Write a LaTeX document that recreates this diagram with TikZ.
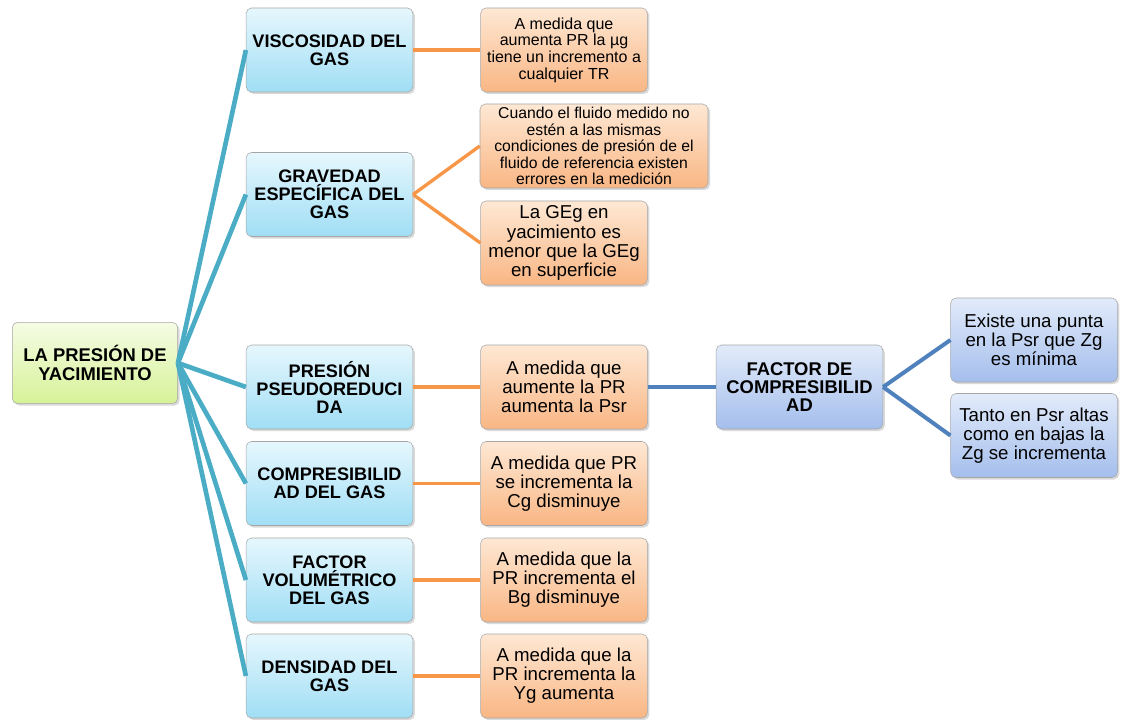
\documentclass[tikz,border=0pt]{standalone}
\usepackage{fontspec}
\setmainfont{Liberation Sans}
\usetikzlibrary{shadows}
\definecolor{tealline}{RGB}{75,172,198}
\definecolor{orangeline}{RGB}{247,150,70}
\definecolor{blueline}{RGB}{79,129,189}
\definecolor{greentop}{RGB}{245,252,228}
\definecolor{greenbot}{RGB}{214,242,152}
\definecolor{cyantop}{RGB}{230,247,253}
\definecolor{cyanbot}{RGB}{160,222,245}
\definecolor{peachtop}{RGB}{254,232,212}
\definecolor{peachbot}{RGB}{249,182,132}
\definecolor{lavtop}{RGB}{226,235,250}
\definecolor{lavbot}{RGB}{164,190,236}
\begin{document}
\begin{tikzpicture}[x=0.75pt,y=-0.75pt,
  box/.style={draw=black!35,rounded corners=4pt,align=center,inner sep=1pt,
    minimum width=125pt,minimum height=63pt,
    drop shadow={opacity=0.3,shadow xshift=1.5pt,shadow yshift=-1.5pt}},
  rootbox/.style={box,minimum width=124pt,minimum height=61pt,
    top color=greentop,bottom color=greenbot,font=\bfseries\fontsize{13.8}{13.6}\selectfont},
  topic/.style={box,top color=cyantop,bottom color=cyanbot,
    font=\bfseries\fontsize{13.6}{13.5}\selectfont},
  note/.style={box,top color=peachtop,bottom color=peachbot,
    font=\fontsize{14}{14.3}\selectfont},
  factorbox/.style={box,top color=lavtop,bottom color=lavbot,
    font=\bfseries\fontsize{13.8}{13.5}\selectfont},
  subnote/.style={box,top color=lavtop,bottom color=lavbot,
    font=\fontsize{14}{14.3}\selectfont}]
  \useasboundingbox (0,0) rectangle (1123,720);
  % root
  \node[rootbox] (root) at (95,363) {LA PRESIÓN DE\\YACIMIENTO};
  % first level
  \node[topic] (visc) at (329.5,50) {VISCOSIDAD DEL\\GAS};
  \node[topic] (grav) at (329.5,194.5) {GRAVEDAD\\ESPECÍFICA DEL\\GAS};
  \node[topic] (psr) at (329.5,387) {PRESIÓN\\PSEUDOREDUCI\\DA};
  \node[topic] (comp) at (329.5,483.5) {COMPRESIBILID\\AD DEL GAS};
  \node[topic] (bg) at (329.5,580) {FACTOR\\VOLUMÉTRICO\\DEL GAS};
  \node[topic] (dens) at (329.5,676) {DENSIDAD DEL\\GAS};
  % second level
  \node[note,font=\fontsize{12}{12.5}\selectfont] (viscnote) at (564,50)
    {A medida que\\aumenta PR la µg\\tiene un incremento a\\cualquier TR};
  \node[note,minimum width=171pt,font=\fontsize{11.8}{12.4}\selectfont] (gravnotea) at (594,146)
    {Cuando el fluido medido no\\estén a las mismas\\condiciones de presión de el\\fluido de referencia existen\\errores en la medición};
  \node[note] (gravnoteb) at (564,243)
    {La GEg en\\yacimiento es\\menor que la GEg\\en superficie};
  \node[note] (psrnote) at (564,387) {A medida que\\aumente la PR\\aumenta la Psr};
  \node[note] (compnote) at (564,483.5) {A medida que PR\\se incrementa la\\Cg disminuye};
  \node[note] (bgnote) at (564,580) {A medida que la\\PR incrementa el\\Bg disminuye};
  \node[note] (densnote) at (564,676) {A medida que la\\PR incrementa la\\Yg aumenta};
  % third level
  \node[factorbox] (zfac) at (799.5,387) {FACTOR DE\\COMPRESIBILID\\AD};
  \node[subnote] (zmin) at (1034,340) {Existe una punta\\en la Psr que Zg\\es mínima};
  \node[subnote] (zinc) at (1034,435.5) {Tanto en Psr altas\\como en bajas la\\Zg se incrementa};
  % connectors
  \foreach \t in {visc,grav,psr,comp,bg,dens}
    \draw[tealline,line width=3.5pt] (root.east) -- (\t.west);
  \foreach \a/\b in {visc/viscnote,grav/gravnotea,grav/gravnoteb,psr/psrnote,comp/compnote,bg/bgnote,dens/densnote}
    \draw[orangeline,line width=2.5pt] (\a.east) -- (\b.west);
  \draw[blueline,line width=3pt] (psrnote.east) -- (zfac.west);
  \draw[blueline,line width=3pt] (zfac.east) -- (zmin.west);
  \draw[blueline,line width=3pt] (zfac.east) -- (zinc.west);
\end{tikzpicture}
\end{document}
